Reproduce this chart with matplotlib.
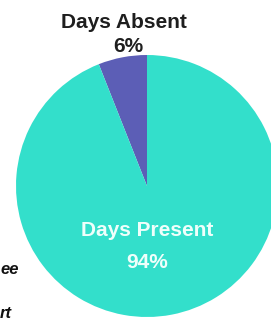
import matplotlib.pyplot as plt

labels = ["Days Absent", "Days Present"]
values = [6, 94]
colors = ["#5C5EB6", "#33DFCB"]
side_notes = ["ee", "rt"]

W, H = 271, 320
fig = plt.figure(figsize=(W / 100, H / 100), dpi=100)
plt.rcParams['font.family'] = ['Liberation Sans', 'DejaVu Sans']

cx, cy, r = 147, 186, 131
ax = fig.add_axes([(cx - r) / W, (H - cy - r) / H, 2 * r / W, 2 * r / H])
ax.pie(values, colors=colors, startangle=90, counterclock=True, radius=1)
ax.set_xlim(-1, 1)
ax.set_ylim(-1, 1)
ax.set_aspect('auto')
ax.axis('off')

fig.text(124 / W, 1 - 23 / H, labels[0], ha='center', va='center',
         fontsize=15, fontweight='bold', color='#1E1E1E')
fig.text(128 / W, 1 - 46 / H, f"{values[0]}%", ha='center', va='center',
         fontsize=15, fontweight='bold', color='#1E1E1E')
fig.text(147 / W, 1 - 230 / H, labels[1], ha='center', va='center',
         fontsize=15, fontweight='bold', color='#EFFFFB')
fig.text(147 / W, 1 - 262 / H, f"{values[1]}%", ha='center', va='center',
         fontsize=15, fontweight='bold', color='#EFFFFB')

# side notes, cut off in the source
fig.text(0 / W, 1 - 270 / H, side_notes[0], ha='left', va='center',
         fontsize=12, fontweight='bold', style='italic', color='#111111')
fig.text(0 / W, 1 - 314 / H, side_notes[1], ha='left', va='center',
         fontsize=12, fontweight='bold', style='italic', color='#111111')

fig.savefig("out.png", dpi=100)
